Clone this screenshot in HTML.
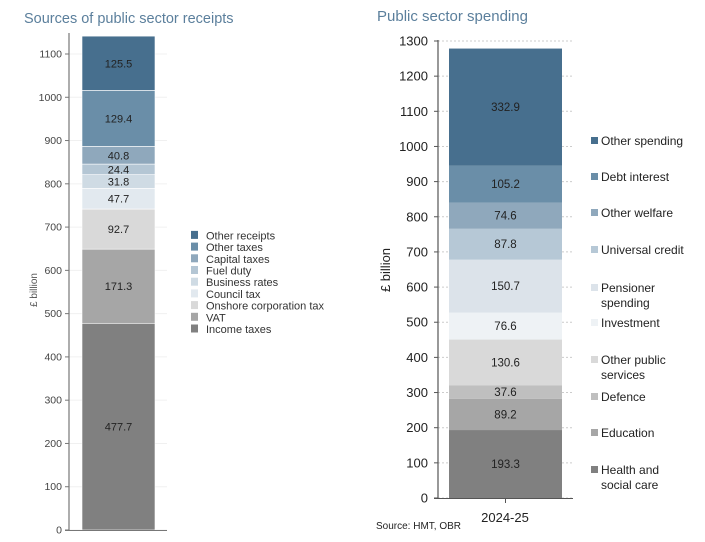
<!DOCTYPE html>
<html><head><meta charset="utf-8"><style>
body{margin:0;background:#fff;font-family:"Liberation Sans",sans-serif}
svg text{font-family:"Liberation Sans",sans-serif}
</style></head><body>
<svg id="c" width="705" height="537">
<text x="24" y="23" font-size="14.5" fill="#5b7f9c">Sources of public sector receipts</text>
<text x="377" y="21" font-size="15" fill="#5b7f9c">Public sector spending</text>
<text transform="translate(37,290) rotate(-90)" text-anchor="middle" font-size="10" fill="#555">£ billion</text>
<text transform="translate(390,270) rotate(-90)" text-anchor="middle" font-size="13" fill="#222">£ billion</text>
<text x="505" y="522" text-anchor="middle" font-size="13" fill="#222">2024-25</text>
<text x="376" y="529" font-size="10" fill="#222">Source: HMT, OBR</text>
</svg>
<script>
const leftCats=["Income taxes","VAT","Onshore corporation tax","Council tax","Business rates","Fuel duty","Capital taxes","Other taxes","Other receipts"];
const leftVals=[477.7,171.3,92.7,47.7,31.8,24.4,40.8,129.4,125.5];
const leftColors=["#808080","#a6a6a6","#d9d9d9","#e2e9ef","#cfdbe4","#b4c6d4","#8fa8bc","#6a8ea8","#476f8e"];
const leftTicks=[0,100,200,300,400,500,600,700,800,900,1000,1100];
const rightCats=["Health and social care","Education","Defence","Other public services","Investment","Pensioner spending","Universal credit","Other welfare","Debt interest","Other spending"];
const rightVals=[193.3,89.2,37.6,130.6,76.6,150.7,87.8,74.6,105.2,332.9];
const rightColors=["#808080","#a6a6a6","#bfbfbf","#d9d9d9","#eef2f5","#dce3ea","#b6c8d6","#8fa8bc","#6a8ea8","#476f8e"];
const rightTicks=[0,100,200,300,400,500,600,700,800,900,1000,1100,1200,1300];
const rightLegendLines=[["Health and","social care"],["Education"],["Defence"],["Other public","services"],["Investment"],["Pensioner","spending"],["Universal credit"],["Other welfare"],["Debt interest"],["Other spending"]];
const rightLegendY=[470,433,397,360,323,288,250,213,177,141];
const NS="http://www.w3.org/2000/svg",svg=document.getElementById('c');
function el(t,a,txt){const e=document.createElementNS(NS,t);for(const k in a)e.setAttribute(k,a[k]);if(txt!==undefined)e.textContent=txt;svg.appendChild(e);return e;}
const ly=v=>530-v*0.43273, ry=v=>498-v*0.35154;
// left grid/axis
leftTicks.forEach(t=>{
 const g=el('line',{x1:69,x2:167,y1:ly(t),y2:ly(t),stroke:'#f0f0f0'});
 
 const tk=el('line',{x1:65,x2:69,y1:ly(t),y2:ly(t),stroke:'#777'});
 
 const l=el('text',{x:62,y:ly(t)+3.5,'text-anchor':'end','font-size':10.5,fill:'#444'},t);
 
});
let cum=0;
leftVals.forEach((v,i)=>{
 const y0=ly(cum),y1=ly(cum+v);
 const r=el('rect',{x:82,y:y1,width:73,height:y0-y1,fill:leftColors[i],stroke:'#fff','stroke-width':0.6});
 
 
 const t=el('text',{x:118.5,y:(y0+y1)/2+4,'text-anchor':'middle','font-size':11,fill:'#222'},v.toFixed(1));
 
 cum+=v;
 const legY=329-i*11.7;
 const s=el('rect',{x:191,y:legY-4.5,width:7,height:8,fill:leftColors[i]});
 
 const lt=el('text',{x:206,y:legY+4,'font-size':11,fill:'#333'},leftCats[i]);
 
});
const la=el('line',{x1:69,x2:69,y1:33,y2:531,stroke:'#777','stroke-width':1.2});

const lb=el('line',{x1:65,x2:167,y1:530.5,y2:530.5,stroke:'#777'});

// right
rightTicks.forEach(t=>{
 const g=el('line',{x1:438,x2:573,y1:ry(t),y2:ry(t),stroke:'#ccc','stroke-dasharray':'2,2'});
 
 const tk=el('line',{x1:434,x2:438,y1:ry(t),y2:ry(t),stroke:'#555'});
 
 const l=el('text',{x:428,y:ry(t)+4.5,'text-anchor':'end','font-size':13,fill:'#222'},t);
 
});
cum=0;
rightVals.forEach((v,i)=>{
 const y0=ry(cum),y1=ry(cum+v);
 const r=el('rect',{x:449,y:y1,width:113,height:y0-y1,fill:rightColors[i]});
 
 
 const t=el('text',{x:505.5,y:(y0+y1)/2+4,'text-anchor':'middle','font-size':11.5,fill:'#222'},v.toFixed(1));
 
 cum+=v;
 const yy=rightLegendY[i];
 const s=el('rect',{x:591,y:yy-4,width:7,height:7,fill:rightColors[i]});
 
 rightLegendLines[i].forEach((ln,k)=>{
  const lt=el('text',{x:601,y:yy+4+k*15,'font-size':12,fill:'#222'},ln);
  
 });
});
const ra=el('line',{x1:438,x2:438,y1:40,y2:499,stroke:'#555','stroke-width':1.2});

const rb=el('line',{x1:434,x2:573,y1:498.5,y2:498.5,stroke:'#555'});

const rt=el('line',{x1:505.5,x2:505.5,y1:498,y2:503,stroke:'#555'});

</script>
</body></html>
